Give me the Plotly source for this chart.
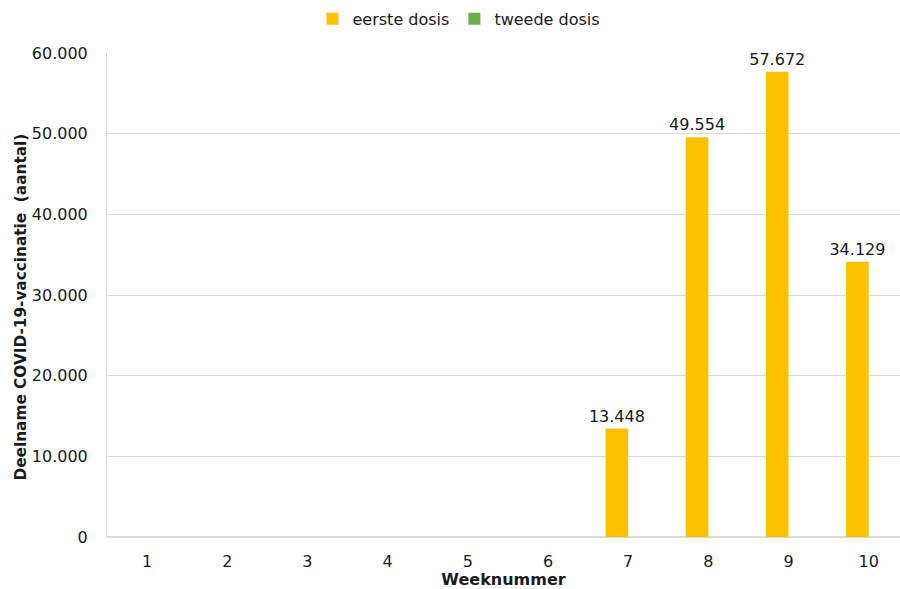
import plotly.graph_objects as go

weeks = [1, 2, 3, 4, 5, 6, 7, 8, 9, 10]
tick_labels = ["1", "2", "3", "4", "5", "6", "7", "8", "9", "10"]
eerste_dosis = [0, 0, 0, 0, 0, 0, 13448, 49554, 57672, 34129]
tweede_dosis = [0, 0, 0, 0, 0, 0, 0, 0, 0, 0]

FONT = "Verdana, DejaVu Sans, sans-serif"
FS = 16

def fmt(v):
    return "" if v == 0 else f"{v:,}".replace(",", ".")

fig = go.Figure()
fig.add_trace(go.Bar(
    x=weeks, y=eerste_dosis, name="eerste dosis",
    marker=dict(color="#FFC000", line=dict(width=0)),
    text=[fmt(v) for v in eerste_dosis], textposition="outside",
    constraintext="none",
    textfont=dict(family=FONT, size=FS, color="#1a1a1a"),
    cliponaxis=False,
))
fig.add_trace(go.Bar(
    x=weeks, y=tweede_dosis, name="tweede dosis",
    marker=dict(color="#70AD47", line=dict(width=0)),
))

fig.add_annotation(
    text="<b>Deelname COVID-19-vaccinatie  (aantal)</b>",
    textangle=-90, xref="paper", yref="paper", x=-0.108, y=0.475,
    xanchor="center", yanchor="middle", showarrow=False,
    font=dict(family=FONT, size=15.3, color="#1a1a1a"),
)

fig.update_layout(
    width=900, height=589,
    margin=dict(l=107, r=0, t=53, b=52, autoexpand=False),
    paper_bgcolor="white", plot_bgcolor="white",
    font=dict(family=FONT, size=FS, color="#1a1a1a"),
    separators=",.",
    barmode="group", bargap=0.436, bargroupgap=0,
    showlegend=True,
    legend=dict(orientation="h", xref="container", x=0.51, xanchor="center",
                yref="container", y=0.997, yanchor="top",
                font=dict(family=FONT, size=FS), itemwidth=30, traceorder="normal"),
    xaxis=dict(
        range=[0.5, 10.39], tickvals=weeks, ticktext=tick_labels,
        showgrid=False, zeroline=False, showline=False, ticks="",
        ticklabelstandoff=13, automargin=False,
        title=dict(text="<b>Weeknummer</b>", font=dict(family=FONT, size=FS), standoff=5),
        tickfont=dict(family=FONT, size=FS),
    ),
    yaxis=dict(
        range=[0, 60000], dtick=10000, tickformat=",d",
        showgrid=True, gridcolor="#D9D9D9", gridwidth=1,
        zeroline=True, zerolinecolor="#D9D9D9", zerolinewidth=2,
        showline=True, linecolor="#D9D9D9", linewidth=1,
        ticks="", ticklabelstandoff=15, automargin=False,
        tickfont=dict(family=FONT, size=FS),
    ),
)

fig.write_html("out.html", config={"displayModeBar": False},
               post_script="document.body.style.margin='0';")
